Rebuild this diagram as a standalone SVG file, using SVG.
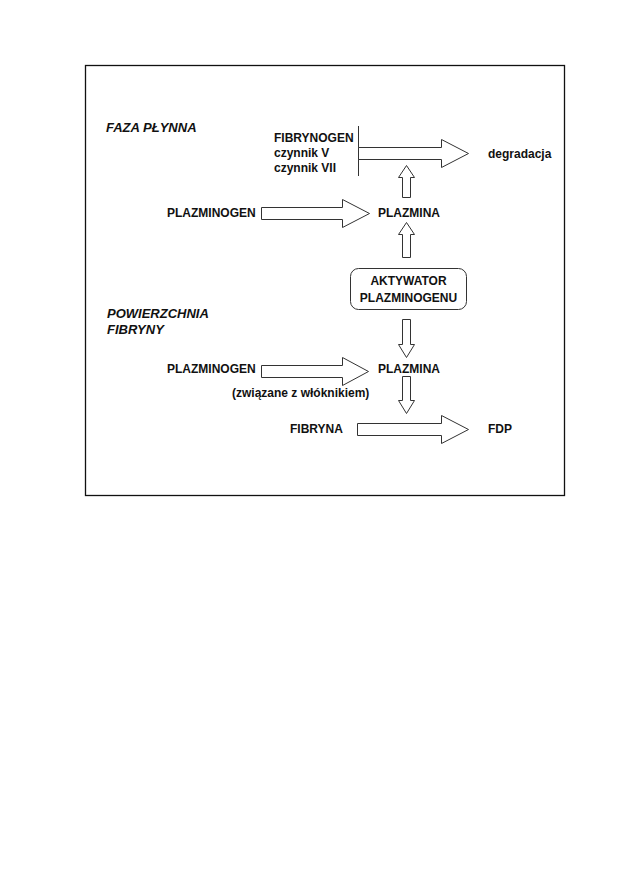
<svg xmlns="http://www.w3.org/2000/svg" width="630" height="893" viewBox="0 0 630 893">
<style>
.t{font-family:"Liberation Sans",Arial,sans-serif;font-size:12px;font-weight:bold;fill:#111}
.h{font-family:"Liberation Sans",Arial,sans-serif;font-size:13px;font-weight:bold;font-style:italic;fill:#111}
.ar{fill:#fff;stroke:#333;stroke-width:1}
</style>
<rect width="630" height="893" fill="#fff"/>
<rect x="85.5" y="65.5" width="479" height="430" fill="none" stroke="#111" stroke-width="1.3"/>
<g id="labels">
<text class="h" x="106" y="132">FAZA PŁYNNA</text>
<text class="h" x="107" y="318">POWIERZCHNIA</text>
<text class="h" x="107" y="334">FIBRYNY</text>
</g>
<g id="fibrynogen">
<text class="t" x="274" y="142">FIBRYNOGEN</text>
<text class="t" x="274" y="157">czynnik V</text>
<text class="t" x="274" y="172">czynnik VII</text>
</g>
<g id="degradacja"><text class="t" x="488" y="158">degradacja</text></g>
<g id="plazminogen1"><text class="t" x="167" y="217">PLAZMINOGEN</text></g>
<g id="plazmina1"><text class="t" x="378" y="217">PLAZMINA</text></g>
<g id="aktywator">
<rect x="350.5" y="268.5" width="116" height="41" rx="8" fill="#fff" stroke="#333"/>
<text class="t" x="408.5" y="285" text-anchor="middle">AKTYWATOR</text>
<text class="t" x="408.5" y="302" text-anchor="middle">PLAZMINOGENU</text>
</g>
<g id="plazminogen2"><text class="t" x="167" y="373">PLAZMINOGEN</text></g>
<g id="plazmina2"><text class="t" x="378" y="373">PLAZMINA</text></g>
<g id="zwiazane"><text class="t" x="232" y="397">(związane z włóknikiem)</text></g>
<g id="fibryna"><text class="t" x="290" y="433">FIBRYNA</text></g>
<g id="fdp"><text class="t" x="488" y="433">FDP</text></g>
<g id="connectors">
<line x1="358.5" y1="126" x2="358.5" y2="176" stroke="#333"/>
<polygon class="ar" points="358.5,147.5 441.5,147.5 441.5,139.5 468.5,153.5 441.5,167.5 441.5,159.5 358.5,159.5"/>
<polygon class="ar" points="261.5,207.5 342.5,207.5 342.5,199.5 369.5,213.5 342.5,227.5 342.5,219.5 261.5,219.5"/>
<polygon class="ar" points="261.5,365.5 342.5,365.5 342.5,357.5 368.5,371.5 342.5,385.5 342.5,377.5 261.5,377.5"/>
<polygon class="ar" points="357.5,423.5 441.5,423.5 441.5,415.5 468.5,429.5 441.5,443.5 441.5,435.5 357.5,435.5"/>
<polygon class="ar" points="402.5,197.5 402.5,177.5 398.5,177.5 406.5,165.5 414.5,177.5 410.5,177.5 410.5,197.5"/>
<polygon class="ar" points="402.5,257.5 402.5,234.5 398.5,234.5 406.5,222.5 414.5,234.5 410.5,234.5 410.5,257.5"/>
<polygon class="ar" points="402.5,319.5 402.5,344.5 398.5,344.5 406.5,357.5 414.5,344.5 410.5,344.5 410.5,319.5"/>
<polygon class="ar" points="402.5,376.5 402.5,400.5 398.5,400.5 406.5,413.5 414.5,400.5 410.5,400.5 410.5,376.5"/>
</g>
</svg>
